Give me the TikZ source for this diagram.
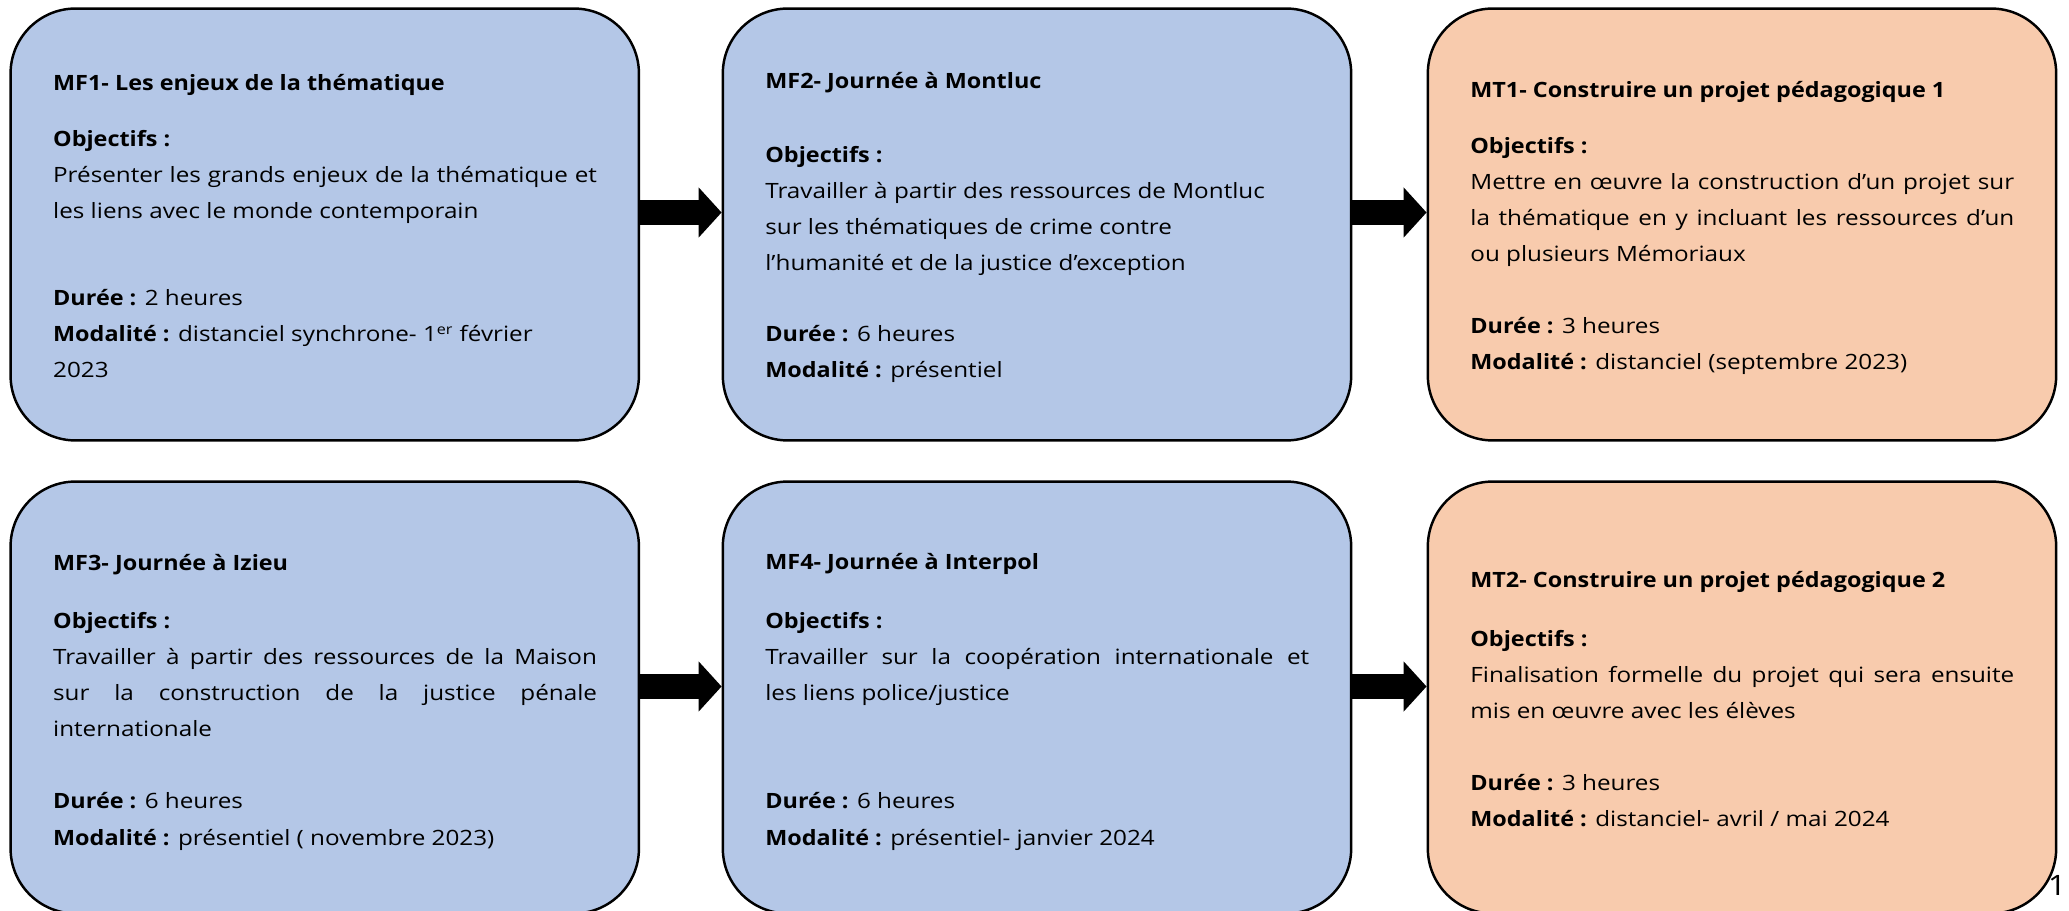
\documentclass[tikz,border=0pt]{standalone}
\usepackage{fontspec}
\setmainfont{Open Sans}[FakeStretch=1.15,BoldFeatures={FakeStretch=1.11}]
\usetikzlibrary{arrows.meta}
\definecolor{bbccee}{rgb}{0.706,0.78,0.906}
\definecolor{ffccaa}{rgb}{0.973,0.796,0.678}
\newcommand{\pleine}[1]{\makebox[10.88cm][s]{#1}}

\begin{document}
\begin{tikzpicture}[x=0.02cm,y=-0.02cm,
	boite/.style={draw,line width=1.4pt,rounded corners=1.3cm,minimum width=12.57cm,minimum height=8.64cm,inner sep=0pt},
	texte/.style={anchor=base west,align=left,inner sep=0pt,font=\fontsize{12}{20.5}\selectfont},
	fleche/.style={line width=0.5cm,-{Triangle[length=0.46cm,width=0.98cm]}}]
	\useasboundingbox (0,0) rectangle (2069,911);
	% les six boites
	\node[boite,fill=bbccee] (mf1) at (324.75,224.5) {};
	\node[boite,fill=bbccee] (mf2) at (1037,224.5) {};
	\node[boite,fill=ffccaa] (mt1) at (1742,224.5) {};
	\node[boite,fill=bbccee] (mf3) at (324.75,697.5) {};
	\node[boite,fill=bbccee] (mf4) at (1037,697.5) {};
	\node[boite,fill=ffccaa] (mt2) at (1742,697.5) {};
	% fleches
	\draw[fleche] ([yshift=0.24cm]mf1.east) -- ([yshift=0.24cm]mf2.west);
	\draw[fleche] ([yshift=0.24cm]mf2.east) -- ([yshift=0.24cm]mt1.west);
	\draw[fleche] ([yshift=0.22cm]mf3.east) -- ([yshift=0.22cm]mf4.west);
	\draw[fleche] ([yshift=0.22cm]mf4.east) -- ([yshift=0.22cm]mt2.west);
	% textes (ancre sur la derniere ligne)
	\node[texte] (mf1txt) at (52.8,378) {\textbf{MF1- Les enjeux de la thématique}\\[0.41cm]
		\textbf{Objectifs :}\\
		\pleine{Présenter les grands enjeux de la thématique et}\\
		les liens avec le monde contemporain\\[1.02cm]
		\textbf{Durée :} 2 heures\\
		\textbf{Modalité :} distanciel synchrone- 1\textsuperscript{er} février\\
		2023};
	\node[texte] (mf2txt) at (765,377.7) {\textbf{MF2- Journée à Montluc}\\[0.75cm]
		\textbf{Objectifs :}\\
		Travailler à partir des ressources de Montluc\\
		sur les thématiques de crime contre\\
		l’humanité et de la justice d’exception\\[0.71cm]
		\textbf{Durée :} 6 heures\\
		\textbf{Modalité :} présentiel};
	\node[texte] (mt1txt) at (1470,370) {\textbf{MT1- Construire un projet pédagogique 1}\\[0.41cm]
		\textbf{Objectifs :}\\
		\pleine{Mettre en œuvre la construction d’un projet sur}\\
		\pleine{la thématique en y incluant les ressources d’un}\\
		ou plusieurs Mémoriaux\\[0.72cm]
		\textbf{Durée :} 3 heures\\
		\textbf{Modalité :} distanciel (septembre 2023)};
	\node[texte] (mf3txt) at (52.8,845) {\textbf{MF3- Journée à Izieu}\\[0.43cm]
		\textbf{Objectifs :}\\
		\pleine{Travailler à partir des ressources de la Maison}\\
		\pleine{sur la construction de la justice pénale}\\
		internationale\\[0.73cm]
		\textbf{Durée :} 6 heures\\
		\textbf{Modalité :} présentiel ( novembre 2023)};
	\node[texte] (mf4txt) at (765,845) {\textbf{MF4- Journée à Interpol}\\[0.46cm]
		\textbf{Objectifs :}\\
		\pleine{Travailler sur la coopération internationale et}\\
		les liens police/justice\\[1.44cm]
		\textbf{Durée :} 6 heures\\
		\textbf{Modalité :} présentiel- janvier 2024};
	\node[texte] (mt2txt) at (1470,826.7) {\textbf{MT2- Construire un projet pédagogique 2}\\[0.45cm]
		\textbf{Objectifs :}\\
		\pleine{Finalisation formelle du projet qui sera ensuite}\\
		mis en œuvre avec les élèves\\[0.73cm]
		\textbf{Durée :} 3 heures\\
		\textbf{Modalité :} distanciel- avril / mai 2024};
	\node[font=\fontsize{16}{19}\selectfont,inner sep=0pt] (pagenum) at (2057,885) {1};
\end{tikzpicture}
\end{document}
